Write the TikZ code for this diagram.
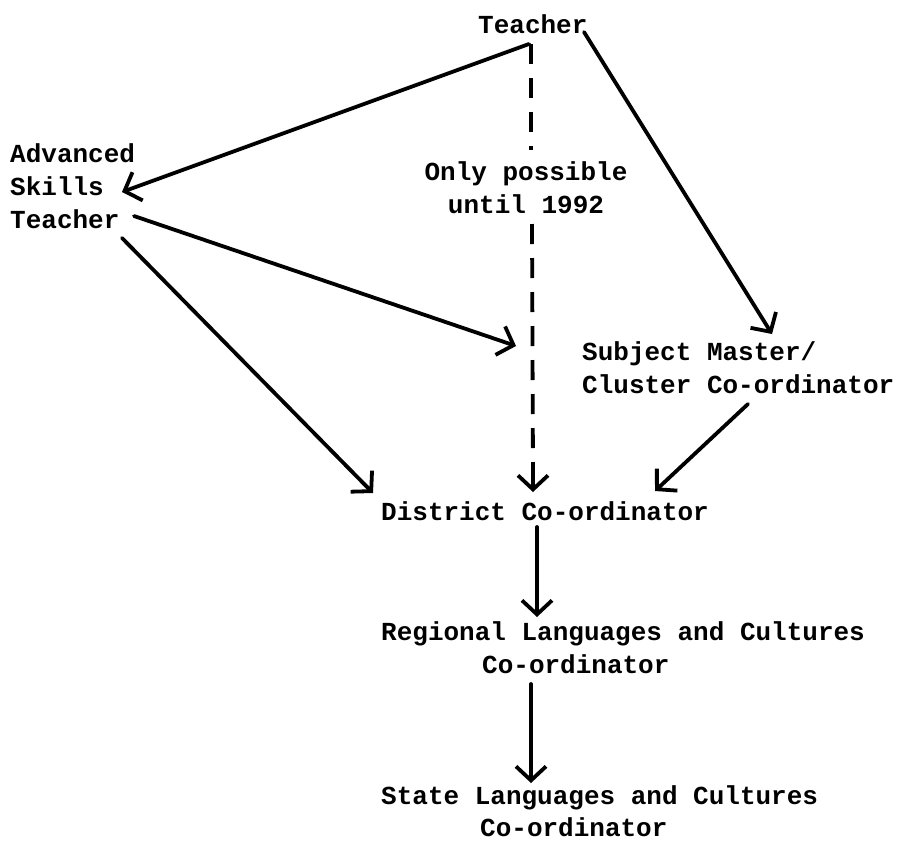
\documentclass[tikz,border=0pt]{standalone}
\usepackage{fontspec}
\setmonofont{Liberation Mono}
\usetikzlibrary{arrows.meta}
\begin{document}
\begin{tikzpicture}[x=1pt,y=-1pt,
  lbl/.style={font=\ttfamily\bfseries\fontsize{26}{33}\selectfont, inner sep=0pt, align=left},
  arr/.style={line width=3.8pt, line cap=round, -{Straight Barb[length=14pt,width=30pt,line width=3.8pt]}},
  dashline/.style={line width=3.8pt, dash pattern=on 20pt off 14pt}]
\useasboundingbox (0,0) rectangle (897,841);
% nodes
\node[lbl,anchor=west] (T) at (478,24) {Teacher};
\node[lbl,anchor=west] (AST) at (10,186) {Advanced\\Skills\\Teacher};
\node[lbl,anchor=west] (SM) at (582,368) {Subject Master/\\Cluster Co-ordinator};
\node[lbl,anchor=west] (DC) at (381,511) {District Co-ordinator};
\node[lbl,anchor=west] (RC) at (381,648) {Regional Languages and Cultures\\\hspace*{101pt}Co-ordinator};
\node[lbl,anchor=west,font=\ttfamily\bfseries\fontsize{26}{32}\selectfont] (SC) at (381,811) {State Languages and Cultures\\\hspace*{99pt}Co-ordinator};
\node[lbl,align=center] (note) at (526,188) {Only possible\\until 1992};
% connector end points
\coordinate (tA) at (529,44);
\coordinate (tB) at (584,32);
\coordinate (tC) at (531,44);
\coordinate (gapTop) at (531,150);
\coordinate (gapBot) at (532,224);
\coordinate (astIn) at (122,192);
\coordinate (astA) at (134,216);
\coordinate (astB) at (122,238);
\coordinate (mid) at (516,346);
\coordinate (smIn) at (772,334);
\coordinate (smOut) at (748,404);
\coordinate (dcA) at (373,493);
\coordinate (dcB) at (533,492);
\coordinate (dcC) at (655,491);
\coordinate (dcOut) at (537,527);
\coordinate (rcIn) at (537,617);
\coordinate (rcOut) at (531,684);
\coordinate (scIn) at (531,783);
% connectors
\draw[dashline] (tC) -- (gapTop);
\draw[dashline] (gapBot) -- ([yshift=18pt]dcB);
\draw[arr] ([yshift=18pt]dcB) -- (dcB);
\draw[arr] (tA) -- (astIn);
\draw[arr] (tB) -- (smIn);
\draw[arr] (astA) -- (mid);
\draw[arr] (astB) -- (dcA);
\draw[arr] (smOut) -- (dcC);
\draw[arr] (dcOut) -- (rcIn);
\draw[arr] (rcOut) -- (scIn);
\end{tikzpicture}
\end{document}
